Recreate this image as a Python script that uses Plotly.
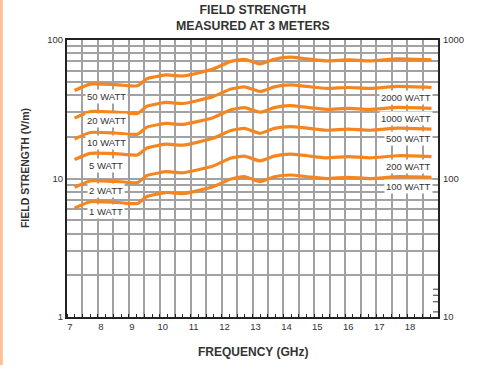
import math
import plotly.graph_objects as go

# Frequency (GHz) sample points along each curve
freq = [7.245, 7.754, 8.568, 9.28, 9.585, 9.992, 10.195, 10.755, 11.721, 12.279, 12.738, 13.246, 13.703, 14.213, 14.772, 15.382, 16.094, 16.806, 17.722, 18.789]

# Field strength (V/m, left axis)
w50 = [43.2, 48.0, 47.6, 46.7, 52.5, 55.0, 56.0, 55.0, 61.6, 69.8, 72.6, 67.2, 72.6, 75.1, 73.0, 70.6, 71.8, 70.6, 73.0, 71.8]
w20 = [27.3, 30.4, 30.1, 29.5, 33.2, 34.8, 35.4, 34.8, 39.0, 44.1, 45.9, 42.5, 45.9, 47.5, 46.2, 44.7, 45.4, 44.7, 46.2, 45.4]
w10 = [19.3, 21.5, 21.3, 20.9, 23.5, 24.6, 25.0, 24.6, 27.5, 31.2, 32.5, 30.1, 32.5, 33.6, 32.6, 31.6, 32.1, 31.6, 32.6, 32.1]
w5 = [13.7, 15.2, 15.1, 14.8, 16.6, 17.4, 17.7, 17.4, 19.5, 22.1, 23.0, 21.2, 23.0, 23.7, 23.1, 22.3, 22.7, 22.3, 23.1, 22.7]
w2 = [8.64, 9.60, 9.52, 9.34, 10.5, 11.0, 11.2, 11.0, 12.3, 14.0, 14.5, 13.4, 14.5, 15.0, 14.6, 14.1, 14.4, 14.1, 14.6, 14.4]
w1 = [6.11, 6.79, 6.73, 6.60, 7.42, 7.78, 7.92, 7.78, 8.71, 9.87, 10.3, 9.50, 10.3, 10.6, 10.3, 9.98, 10.2, 9.98, 10.3, 10.2]

series = [w50, w20, w10, w5, w2, w1]

left_labels = ["50 WATT", "20 WATT", "10 WATT", "5 WATT", "2 WATT", "1 WATT"]
left_label_y = [39.1, 26.3, 18.25, 12.47, 8.24, 5.76]
right_labels = ["2000 WATT", "1000 WATT", "500 WATT", "200 WATT", "100 WATT"]
right_label_y = [38.7, 27.3, 19.4, 12.26, 8.8]

x_ticks = [7, 8, 9, 10, 11, 12, 13, 14, 15, 16, 17, 18]
y_ticks = [1, 10, 100]
y2_ticks = [10, 100, 1000]

ORANGE = "#F5861F"
GRID = "#a2a2a2"
TXT = "#333333"
FONT = "Liberation Sans, Arial, sans-serif"

fig = go.Figure()
for s in series:
    fig.add_trace(go.Scatter(x=freq, y=s, mode="lines",
                             line=dict(color=ORANGE, width=3.2, shape="spline", smoothing=0.5),
                             hoverinfo="skip", showlegend=False))
# dummy trace to draw the right axis
fig.add_trace(go.Scatter(x=[7], y=[100], yaxis="y2", mode="markers",
                         marker=dict(opacity=0), hoverinfo="skip", showlegend=False))

# grid ticks
xgrid = [7 + 0.5 * i for i in range(25)]
xgrid_text = [str(int(v)) if (v == int(v) and int(v) in x_ticks) else "" for v in xgrid]
ygrid = []
for dec in [1, 10]:
    for m in range(1, 10):
        ygrid.append(dec * m)
ygrid.append(100)
ygrid_text = [str(v) if v in y_ticks else "" for v in ygrid]

annotations = []
for t, yv in zip(left_labels, left_label_y):
    annotations.append(dict(x=8.27, y=math.log10(yv), xref="x", yref="y", text=t,
                            showarrow=False, font=dict(size=9.5, color=TXT, family=FONT),
                            bgcolor="white", borderpad=1, xanchor="center", yanchor="middle"))
for t, yv in zip(right_labels, right_label_y):
    annotations.append(dict(x=18.84, y=math.log10(yv), xref="x", yref="y", text=t,
                            showarrow=False, font=dict(size=9.5, color=TXT, family=FONT),
                            bgcolor="white", borderpad=1, xanchor="right", yanchor="middle"))
# titles
annotations.append(dict(x=0.501, y=1.0794, xref="paper", yref="paper",
                        text="<b>FIELD STRENGTH<br>MEASURED AT 3 METERS</b>", showarrow=False,
                        font=dict(size=12.3, color=TXT, family=FONT), xanchor="center", yanchor="middle"))
annotations.append(dict(x=0.501, y=-0.126, xref="paper", yref="paper",
                        text="<b>FREQUENCY (GHz)</b>", showarrow=False,
                        font=dict(size=12, color=TXT, family=FONT), xanchor="center", yanchor="middle"))
annotations.append(dict(x=-0.113, y=0.538, xref="paper", yref="paper", textangle=-90,
                        text="<b>FIELD STRENGTH (V/m)</b>", showarrow=False,
                        font=dict(size=10.5, color=TXT, family=FONT), xanchor="center", yanchor="middle"))

shapes = [dict(type="rect", xref="paper", yref="paper", x0=-0.181, x1=-0.173, y0=-0.2, y1=1.2,
               fillcolor="#FBC195", line=dict(width=0), layer="above")]
for yv in right_label_y:
    shapes.append(dict(type="line", xref="x", yref="y", x0=18.84, x1=19,
                       y0=math.log10(yv), y1=math.log10(yv),
                       line=dict(color=TXT, width=1)))

fig.update_layout(
    width=480, height=365,
    margin=dict(l=67, r=42, t=40, b=48),
    paper_bgcolor="white", plot_bgcolor="white",
    font=dict(family=FONT, color=TXT, size=9),
    xaxis=dict(range=[7, 19], tickvals=xgrid, ticktext=xgrid_text, showgrid=True,
               gridcolor=GRID, gridwidth=1.6, ticks="", showline=True, linecolor="#222",
               linewidth=2, mirror=True, zeroline=False, ticklabelshift=3,
               minor=dict(dtick=0.25, tick0=7, ticks="inside", ticklen=3, tickcolor="#222", showgrid=False),
               tickfont=dict(size=9.5, color=TXT)),
    yaxis=dict(type="log", range=[0, 2], tickvals=ygrid, ticktext=ygrid_text, showgrid=True,
               gridcolor=GRID, gridwidth=1.6, ticks="", showline=True, linecolor="#222",
               linewidth=2, mirror=True, zeroline=False, tickfont=dict(size=9.5, color=TXT)),
    yaxis2=dict(type="log", range=[1, 3], overlaying="y", side="right", tickvals=y2_ticks,
                ticktext=[str(v) for v in y2_ticks], showgrid=False, zeroline=False,
                showline=False, ticks="outside", ticklen=2, tickcolor="rgba(0,0,0,0)",
                tickfont=dict(size=9.5, color=TXT)),
    annotations=annotations, shapes=shapes,
)
fig.write_html("out.html", config={"displayModeBar": False},
               post_script="document.body.style.margin='0';")
